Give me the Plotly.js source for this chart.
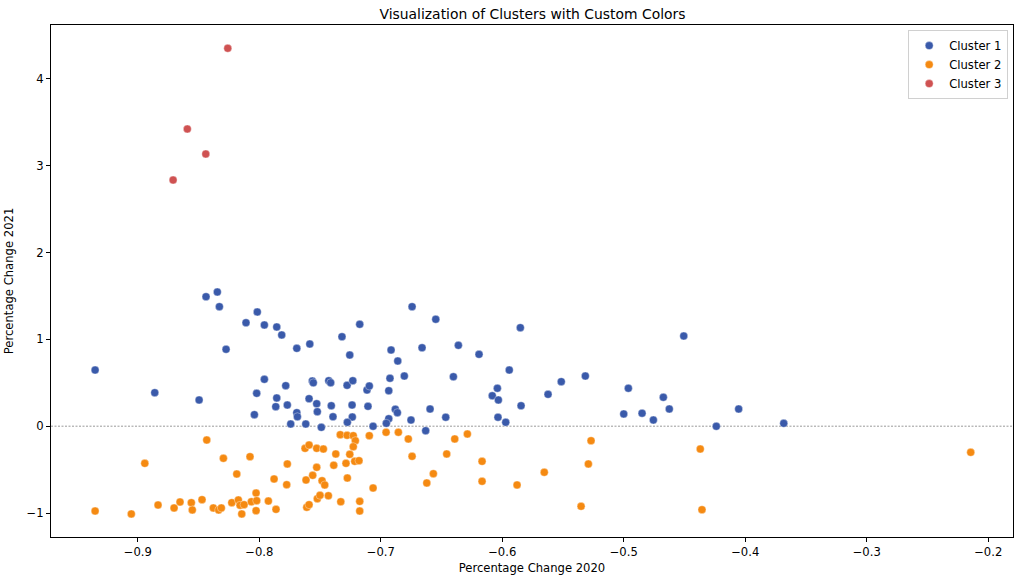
<!DOCTYPE html>
<html>
<head>
<meta charset="utf-8">
<script src="https://cdn.plot.ly/plotly-3.0.1.min.js"></script>
<style>html,body{margin:0;padding:0;background:#fff;}#chart{width:1015px;height:577px;}</style>
</head>
<body>
<div id="chart"></div>
<script>
const cluster1X = [-0.8438,-0.8345,-0.8328,-0.8016,-0.8109,-0.7958,-0.7856,-0.7815,-0.8273,-0.7691,-0.9351,-0.8860,-0.8495,-0.7958,-0.8021,-0.7782,-0.7856,-0.7864,-0.7769,-0.8040,-0.7691,-0.7686,-0.7741,
  -0.7584,-0.7319,-0.7173,-0.7255,-0.6742,-0.6547,-0.5851,-0.6915,-0.6660,-0.6361,-0.6191,-0.6860,-0.5942,-0.7563,-0.7555,-0.7428,-0.7412,-0.7277,-0.7230,-0.7113,-0.7094,-0.6924,-0.6806,-0.6934,-0.6402,-0.6040,-0.6082,-0.6032,-0.5845,
  -0.7590,-0.7527,-0.7522,-0.7407,-0.7393,-0.7236,-0.7234,-0.7275,-0.7105,-0.7063,-0.7617,-0.7489,-0.6934,-0.6954,-0.6880,-0.6863,-0.6751,-0.6594,-0.6465,-0.6630,-0.6035,-0.5971,
  -0.5623,-0.5514,-0.5316,-0.4506,-0.4962,-0.5000,-0.4849,-0.4756,-0.4674,-0.4625,-0.4238,-0.4054,-0.3683];
const cluster1Y = [1.492,1.546,1.377,1.316,1.192,1.166,1.143,1.051,0.886,0.897,0.647,0.386,0.302,0.540,0.379,0.467,0.325,0.225,0.244,0.133,0.156,0.109,0.025,
  0.947,1.031,1.174,0.820,1.377,1.232,1.135,0.878,0.904,0.932,0.828,0.751,0.647,0.520,0.500,0.524,0.501,0.471,0.524,0.417,0.463,0.552,0.578,0.409,0.570,0.437,0.351,0.302,0.236,
  0.317,0.259,0.167,0.236,0.109,0.244,0.106,0.045,0.229,-0.001,0.025,-0.013,0.086,0.033,0.195,0.156,0.071,0.198,0.103,-0.052,0.103,0.045,
  0.367,0.513,0.578,1.039,0.437,0.141,0.149,0.071,0.333,0.198,-0.001,0.198,0.033];

const cluster2X = [-0.8432,-0.8942,-0.8295,-0.8076,-0.8185,-0.7769,-0.7878,-0.7774,-0.9351,-0.9053,-0.8833,-0.8701,-0.8652,-0.8559,-0.8551,-0.8471,-0.8378,-0.8334,-0.8312,-0.8226,-0.8172,-0.8158,-0.8125,-0.8144,-0.8065,-0.8026,-0.8021,-0.8026,-0.7925,-0.7862,
  -0.7333,-0.7277,-0.7226,-0.7209,-0.7226,-0.7094,-0.6956,-0.6855,-0.6773,-0.6742,-0.6391,-0.6287,-0.6457,-0.6166,-0.6567,-0.6621,-0.6166,-0.5878,
  -0.7623,-0.7590,-0.7527,-0.7472,-0.7370,-0.7255,-0.7387,-0.7286,-0.7214,-0.7179,-0.7527,-0.7615,-0.7560,-0.7483,-0.7461,-0.7275,-0.7063,-0.7522,-0.7500,-0.7431,-0.7609,-0.7590,-0.7329,-0.7173,-0.7173,
  -0.5269,-0.5291,-0.5654,-0.5351,-0.4370,-0.4356,-0.2144];
const cluster2Y = [-0.159,-0.428,-0.370,-0.351,-0.551,-0.435,-0.608,-0.674,-0.977,-1.011,-0.908,-0.942,-0.873,-0.881,-0.965,-0.846,-0.942,-0.965,-0.942,-0.881,-0.850,-0.911,-0.904,-1.011,-0.870,-0.770,-0.858,-0.973,-0.862,-0.958,
  -0.098,-0.105,-0.109,-0.167,-0.236,-0.109,-0.070,-0.070,-0.147,-0.347,-0.147,-0.090,-0.320,-0.405,-0.547,-0.654,-0.635,-0.677,
  -0.255,-0.217,-0.255,-0.263,-0.320,-0.324,-0.450,-0.428,-0.405,-0.397,-0.474,-0.620,-0.566,-0.628,-0.677,-0.597,-0.712,-0.835,-0.796,-0.801,-0.934,-0.904,-0.870,-0.866,-0.977,
  -0.167,-0.435,-0.531,-0.923,-0.263,-0.962,-0.301];

const cluster3X = [-0.8259,-0.8592,-0.8440,-0.8709];
const cluster3Y = [4.354,3.424,3.136,2.836];

const seriesNames = ['Cluster 1','Cluster 2','Cluster 3'];
const xTicks = [-0.9,-0.8,-0.7,-0.6,-0.5,-0.4,-0.3,-0.2];
const yTicks = [-1,0,1,2,3,4];

const colors = ['#3a5aaa','#f58a12','#cf5252'];
const xs = [cluster1X, cluster2X, cluster3X];
const ys = [cluster1Y, cluster2Y, cluster3Y];

const traces = seriesNames.map((n,i)=>({
  type:'scatter', mode:'markers', name:n, x:xs[i], y:ys[i],
  marker:{color:colors[i], size:8, line:{color:'rgba(255,255,255,0.6)', width:0.6}}
}));

const font = {family:'DejaVu Sans, sans-serif', color:'#000', size:11.6};
const layout = {
  width:1015, height:577,
  margin:{l:51, r:2, t:25, b:40},
  paper_bgcolor:'#fff', plot_bgcolor:'#fff',
  font:font,
  showlegend:true,
  title:{text:'Visualization of Clusters with Custom Colors', font:{family:'DejaVu Sans, sans-serif', size:13.9, color:'#000'}, x:0.5246, xanchor:'center', y:0.976, yanchor:'middle'},
  xaxis:{range:[-0.9714,-0.1796], tickvals:xTicks, ticktext:xTicks.map(v=>v.toFixed(1).replace('-','\u2212')),
    ticks:'outside', ticklen:4, tickcolor:'#000', showline:true, linecolor:'#000', linewidth:1, mirror:true,
    showgrid:false, zeroline:false, tickfont:font,
    title:{text:'Percentage Change 2020', font:font, standoff:5}},
  yaxis:{range:[-1.2765,4.622], tickvals:yTicks, ticktext:yTicks.map(v=>String(v).replace('-','\u2212')),
    ticks:'outside', ticklen:4, tickcolor:'#000', showline:true, linecolor:'#000', linewidth:1, mirror:true,
    showgrid:false, zeroline:false, tickfont:font,
    title:{text:'Percentage Change 2021', font:font, standoff:10}},
  legend:{x:0.995, y:0.99, xanchor:'right', yanchor:'top', bgcolor:'rgba(255,255,255,0.8)', bordercolor:'#d0d0d0', borderwidth:1,
    font:{family:'DejaVu Sans, sans-serif', size:11.6, color:'#000'}, itemsizing:'trace', tracegroupgap:0, itemwidth:30},
  shapes:[{type:'line', xref:'paper', x0:0, x1:1, yref:'y', y0:0, y1:0, line:{color:'#808080', width:0.8, dash:'2px,1.5px'}, layer:'below'}]
};
Plotly.newPlot('chart', traces, layout, {displayModeBar:false, staticPlot:true});
</script>
</body>
</html>
